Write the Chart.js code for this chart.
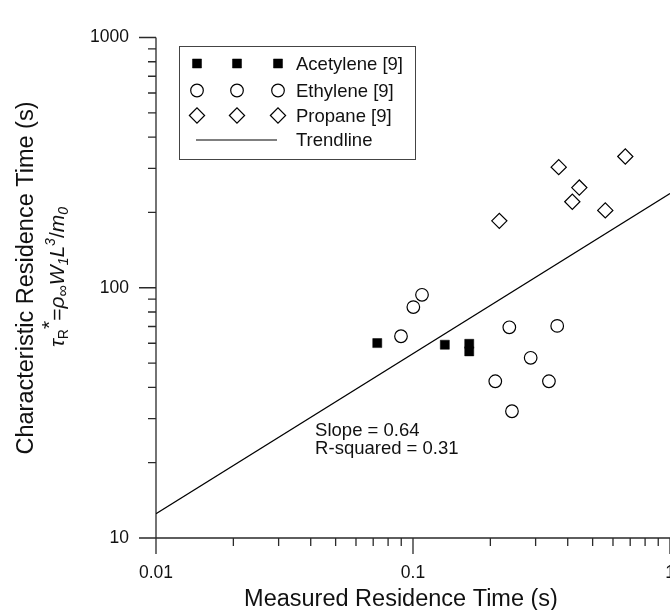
<!DOCTYPE html>
<html>
<head>
<meta charset="utf-8">
<script src="https://cdn.jsdelivr.net/npm/chart.js@4.4.1/dist/chart.umd.min.js"></script>
<style>
    html, body { margin: 0; padding: 0; background: #fff; }
    #wrap { width: 670px; height: 610px; overflow: hidden; position: relative; }
    #wrap canvas { position: absolute; left: 0; top: 0; }
</style>
</head>
<body>
<div id="wrap"><canvas id="chart" width="700" height="610"></canvas></div>
<script>
(function () {
    "use strict";

    // Data (log-log)
    const acetyleneX = [0.0726, 0.133, 0.1655, 0.1655];
    const acetyleneY = [60.1, 59.2, 59.7, 55.7];
    const ethyleneX = [0.0898, 0.1003, 0.1084, 0.237, 0.364, 0.287, 0.209, 0.338, 0.2427];
    const ethyleneY = [64.0, 83.7, 93.7, 69.5, 70.4, 52.5, 42.3, 42.3, 32.1];
    const propaneX = [0.2167, 0.369, 0.4437, 0.4168, 0.56, 0.67];
    const propaneY = [185.1, 303.3, 251.4, 220.7, 203.7, 334.5];
    const trendX = [0.01, 1];
    const trendY = [12.5, 238];
    const xTicks = [0.01, 0.1, 1];
    const yTicks = [10, 100, 1000];
    const seriesNames = ["Acetylene [9]", "Ethylene [9]", "Propane [9]", "Trendline"];
    const fitLines = ["Slope = 0.64", "R-squared = 0.31"];
    const xTitle = "Measured Residence Time (s)";
    const yTitle = "Characteristic Residence Time (s)";

    const fam = '"Liberation Sans", Arial, Helvetica, sans-serif';
    const ink = "#111";
    Chart.defaults.font.family = fam;
    Chart.defaults.color = ink;

    const pts = (xs, ys) => xs.map((v, i) => ({ x: v, y: ys[i] }));

    // spines + log ticks, drawn outward
    const axesPlugin = {
        id: "axesTicks",
        beforeDatasetsDraw(chart) {
            const { ctx, chartArea: a, scales } = chart;
            const x = scales.x, y = scales.y;
            ctx.save();
            ctx.strokeStyle = "#2a2a2a";
            ctx.lineWidth = 1.3;
            ctx.beginPath();
            ctx.moveTo(a.left, a.top);
            ctx.lineTo(a.left, a.bottom);
            ctx.lineTo(a.right, a.bottom);
            [-2, -1].forEach((e) => {
                for (let m = 1; m <= 9; m++) {
                    const px = x.getPixelForValue(m * Math.pow(10, e));
                    ctx.moveTo(px, a.bottom);
                    ctx.lineTo(px, a.bottom + (m === 1 ? 16 : 8));
                }
            });
            const p1 = x.getPixelForValue(1);
            ctx.moveTo(p1, a.bottom);
            ctx.lineTo(p1, a.bottom + 16);
            [1, 2].forEach((e) => {
                for (let m = 1; m <= 9; m++) {
                    const py = y.getPixelForValue(m * Math.pow(10, e));
                    ctx.moveTo(a.left, py);
                    ctx.lineTo(a.left - (m === 1 ? 17 : 8), py);
                }
            });
            const pTop = y.getPixelForValue(1000);
            ctx.moveTo(a.left, pTop);
            ctx.lineTo(a.left - 17, pTop);
            ctx.stroke();
            ctx.restore();
        },
    };

    // titles, legend box and fit text
    const textPlugin = {
        id: "extraText",
        afterDraw(chart) {
            const { ctx, scales } = chart;
            const x = scales.x, y = scales.y;
            ctx.save();
            ctx.fillStyle = ink;

            // x title
            ctx.font = "23.5px " + fam;
            ctx.textAlign = "center";
            ctx.textBaseline = "alphabetic";
            ctx.fillText(xTitle, 401, 606);

            // y title, first line
            ctx.save();
            ctx.translate(33, 278);
            ctx.rotate(-Math.PI / 2);
            ctx.font = "23.5px " + fam;
            ctx.fillText(yTitle, 0, 0);
            ctx.restore();

            // y title, second line with sub/superscripts
            const spans = [
                ["τ", true, 21, 0], ["R", false, 14, 4], ["*", false, 21, -8],
                ["=", false, 21, 0], ["ρ", true, 21, 0], ["∞", false, 16, 4],
                ["W", true, 21, 0], ["1", true, 14, 4], ["L", true, 21, 0],
                ["3", true, 14, -9], ["/", false, 21, 0], ["m", true, 21, 0],
                ["0", true, 14, 4],
            ];
            const fontOf = (s) => (s[1] ? "italic " : "") + s[2] + "px " + fam;
            let total = 0;
            spans.forEach((s) => { ctx.font = fontOf(s); total += ctx.measureText(s[0]).width; });
            ctx.save();
            ctx.translate(64, 277);
            ctx.rotate(-Math.PI / 2);
            ctx.textAlign = "left";
            let cx = -total / 2;
            spans.forEach((s) => {
                ctx.font = fontOf(s);
                ctx.fillText(s[0], cx, s[3]);
                cx += ctx.measureText(s[0]).width;
            });
            ctx.restore();

            // legend
            ctx.strokeStyle = "#444";
            ctx.lineWidth = 1;
            ctx.strokeRect(179.5, 46.5, 236, 113);
            const rows = [63.5, 90.5, 115.5, 140];
            const mx = [197, 237, 278];
            ctx.font = "18.5px " + fam;
            ctx.textAlign = "left";
            ctx.textBaseline = "middle";
            chart.data.datasets.forEach((ds, i) => {
                const ry = rows[i];
                if (ds.showLine) {
                    ctx.strokeStyle = ds.borderColor;
                    ctx.lineWidth = ds.borderWidth;
                    ctx.beginPath();
                    ctx.moveTo(196, ry);
                    ctx.lineTo(277, ry);
                    ctx.stroke();
                } else {
                    mx.forEach((px) => {
                        ctx.fillStyle = ds.backgroundColor;
                        ctx.strokeStyle = ds.borderColor;
                        ctx.lineWidth = ds.borderWidth;
                        Chart.helpers.drawPoint(ctx, {
                            pointStyle: ds.pointStyle,
                            radius: ds.pointRadius,
                            rotation: 0,
                            borderWidth: ds.borderWidth,
                        }, px, ry);
                    });
                }
                ctx.fillStyle = ink;
                ctx.fillText(ds.label, 296, ry + 1);
            });

            // fit statistics
            ctx.font = "18.5px " + fam;
            ctx.textBaseline = "alphabetic";
            const fx = x.getPixelForValue(0.0416);
            const fy = y.getPixelForValue(25.6);
            fitLines.forEach((t, i) => ctx.fillText(t, fx, fy + i * 18.3));
            ctx.restore();
        },
    };

    new Chart(document.getElementById("chart"), {
        type: "scatter",
        data: {
            datasets: [
                {
                    label: seriesNames[0],
                    data: pts(acetyleneX, acetyleneY),
                    pointStyle: "rect",
                    pointRadius: 6.4,
                    backgroundColor: "#000",
                    borderColor: "#000",
                    borderWidth: 0.5,
                },
                {
                    label: seriesNames[1],
                    data: pts(ethyleneX, ethyleneY),
                    pointStyle: "circle",
                    pointRadius: 6.3,
                    backgroundColor: "rgba(0,0,0,0)",
                    borderColor: "#000",
                    borderWidth: 1.2,
                },
                {
                    label: seriesNames[2],
                    data: pts(propaneX, propaneY),
                    pointStyle: "rectRot",
                    pointRadius: 7.6,
                    backgroundColor: "rgba(0,0,0,0)",
                    borderColor: "#000",
                    borderWidth: 1.2,
                },
                {
                    label: seriesNames[3],
                    data: pts(trendX, trendY),
                    showLine: true,
                    pointRadius: 0,
                    borderColor: "#000",
                    borderWidth: 1.2,
                    backgroundColor: "#000",
                },
            ],
        },
        options: {
            responsive: false,
            animation: false,
            events: [],
            layout: { padding: { left: 0, right: 30, top: 22, bottom: 0 } },
            plugins: {
                legend: { display: false },
                tooltip: { enabled: false },
            },
            scales: {
                x: {
                    type: "logarithmic",
                    min: 0.01,
                    max: 1,
                    afterBuildTicks: (s) => { s.ticks = xTicks.map((v) => ({ value: v })); },
                    afterFit: (s) => { s.height = 72; },
                    grid: { display: false, drawTicks: false },
                    border: { display: false },
                    ticks: {
                        autoSkip: false,
                        maxRotation: 0,
                        padding: 25,
                        font: { size: 17.5 },
                        color: ink,
                        callback: (v) => String(v),
                    },
                },
                y: {
                    type: "logarithmic",
                    min: 10,
                    max: 1000,
                    afterBuildTicks: (s) => { s.ticks = yTicks.map((v) => ({ value: v })); },
                    afterFit: (s) => { s.width = 156; },
                    grid: { display: false, drawTicks: false },
                    border: { display: false },
                    ticks: {
                        autoSkip: false,
                        padding: 27,
                        font: { size: 17.5 },
                        color: ink,
                        callback: (v) => String(v),
                    },
                },
            },
        },
        plugins: [axesPlugin, textPlugin],
    });
})();
</script>
</body>
</html>
